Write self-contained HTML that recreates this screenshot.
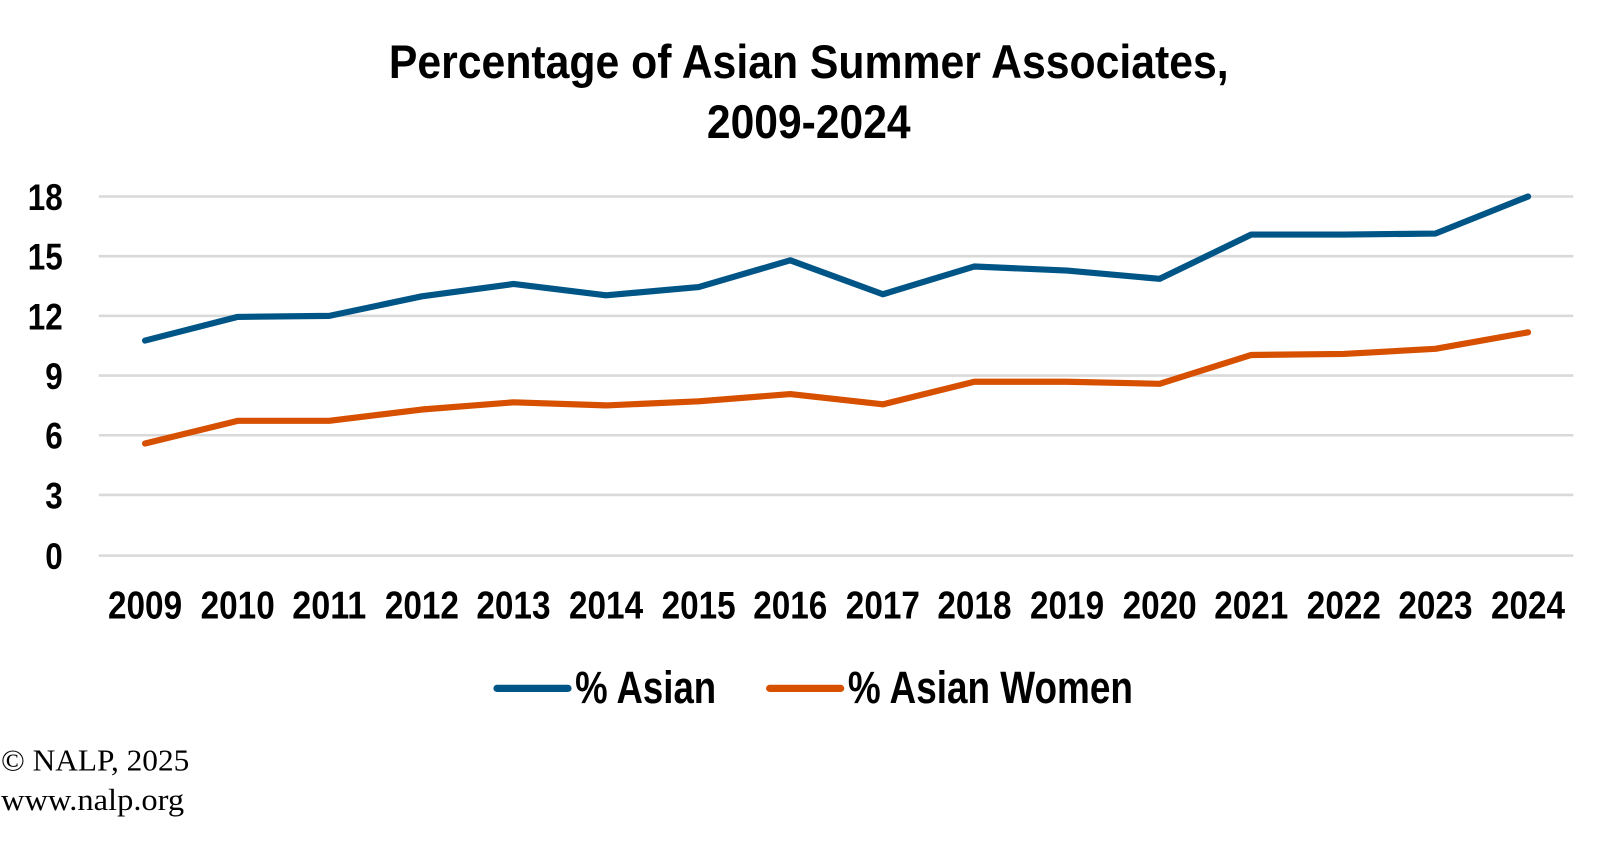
<!DOCTYPE html>
<html><head><meta charset="utf-8"><style>html,body{margin:0;padding:0;background:#fff;width:1613px;height:854px;overflow:hidden}</style></head>
<body>
<svg width="1613" height="854" xmlns="http://www.w3.org/2000/svg" font-family="Liberation Sans, sans-serif">
<g transform="translate(1,1) scale(1.029)">
<g font-weight="bold" font-size="46" text-anchor="middle" fill="#000">
<text x="785" y="75" textLength="816" lengthAdjust="spacingAndGlyphs">Percentage of Asian Summer Associates,</text>
<text x="785" y="133" textLength="198" lengthAdjust="spacingAndGlyphs">2009-2024</text>
</g>
<g stroke="#d9d9d9" stroke-width="2.5">
<line x1="95" x2="1528" y1="190" y2="190"/><line x1="95" x2="1528" y1="248" y2="248"/>
<line x1="95" x2="1528" y1="306" y2="306"/><line x1="95" x2="1528" y1="364" y2="364"/>
<line x1="95" x2="1528" y1="422" y2="422"/><line x1="95" x2="1528" y1="480" y2="480"/>
<line x1="95" x2="1528" y1="539" y2="539"/>
</g>
<g font-weight="bold" font-size="36" text-anchor="end" fill="#000">
<text x="60" y="203" textLength="34" lengthAdjust="spacingAndGlyphs">18</text>
<text x="60" y="261" textLength="34" lengthAdjust="spacingAndGlyphs">15</text>
<text x="60" y="319" textLength="34" lengthAdjust="spacingAndGlyphs">12</text>
<text x="60" y="377" textLength="17" lengthAdjust="spacingAndGlyphs">9</text>
<text x="60" y="435" textLength="17" lengthAdjust="spacingAndGlyphs">6</text>
<text x="60" y="493" textLength="17" lengthAdjust="spacingAndGlyphs">3</text>
<text x="60" y="552" textLength="17" lengthAdjust="spacingAndGlyphs">0</text>
</g>
<g font-weight="bold" font-size="38" text-anchor="middle" fill="#000">
<text x="140" y="600" textLength="72" lengthAdjust="spacingAndGlyphs">2009</text>
<text x="230" y="600" textLength="72" lengthAdjust="spacingAndGlyphs">2010</text>
<text x="319" y="600" textLength="72" lengthAdjust="spacingAndGlyphs">2011</text>
<text x="409" y="600" textLength="72" lengthAdjust="spacingAndGlyphs">2012</text>
<text x="498" y="600" textLength="72" lengthAdjust="spacingAndGlyphs">2013</text>
<text x="588" y="600" textLength="72" lengthAdjust="spacingAndGlyphs">2014</text>
<text x="678" y="600" textLength="72" lengthAdjust="spacingAndGlyphs">2015</text>
<text x="767" y="600" textLength="72" lengthAdjust="spacingAndGlyphs">2016</text>
<text x="857" y="600" textLength="72" lengthAdjust="spacingAndGlyphs">2017</text>
<text x="946" y="600" textLength="72" lengthAdjust="spacingAndGlyphs">2018</text>
<text x="1036" y="600" textLength="72" lengthAdjust="spacingAndGlyphs">2019</text>
<text x="1126" y="600" textLength="72" lengthAdjust="spacingAndGlyphs">2020</text>
<text x="1215" y="600" textLength="72" lengthAdjust="spacingAndGlyphs">2021</text>
<text x="1305" y="600" textLength="72" lengthAdjust="spacingAndGlyphs">2022</text>
<text x="1394" y="600" textLength="72" lengthAdjust="spacingAndGlyphs">2023</text>
<text x="1484" y="600" textLength="72" lengthAdjust="spacingAndGlyphs">2024</text>
</g>
<polyline fill="none" stroke="#005587" stroke-width="6" stroke-linejoin="round" stroke-linecap="round"
points="140,330 230,307 319,306 409,287 498,275 588,286 678,278 767,252 857,285 946,258 1036,262 1126,270 1215,227 1305,227 1394,226 1484,190"/>
<polyline fill="none" stroke="#d65000" stroke-width="6" stroke-linejoin="round" stroke-linecap="round"
points="140,430 230,408 319,408 409,397 498,390 588,393 678,389 767,382 857,392 946,370 1036,370 1126,372 1215,344 1305,343 1394,338 1484,322"/>
<line x1="482" x2="551" y1="668" y2="668" stroke="#005587" stroke-width="7" stroke-linecap="round"/>
<line x1="747" x2="816" y1="668" y2="668" stroke="#d65000" stroke-width="7" stroke-linecap="round"/>
<g font-weight="bold" font-size="44" fill="#000">
<text x="558" y="682" textLength="137" lengthAdjust="spacingAndGlyphs">% Asian</text>
<text x="823" y="682" textLength="277" lengthAdjust="spacingAndGlyphs">% Asian Women</text>
</g>
<g font-family="Liberation Serif, serif" font-size="30" fill="#000">
<text x="0" y="748" textLength="183" lengthAdjust="spacingAndGlyphs">© NALP, 2025</text>
<text x="0" y="786" textLength="178" lengthAdjust="spacingAndGlyphs">www.nalp.org</text>
</g>
</g>
</svg>
</body></html>
